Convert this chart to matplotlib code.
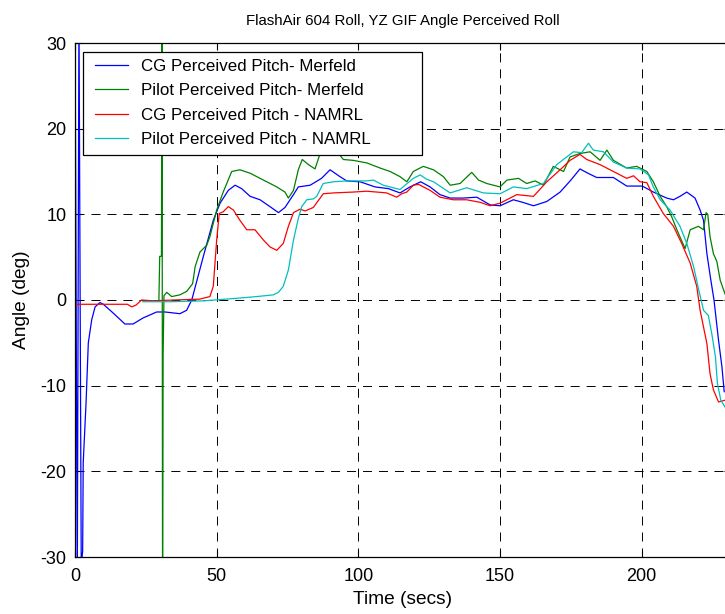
import matplotlib
matplotlib.use("Agg")
import matplotlib.pyplot as plt
from matplotlib.patches import Rectangle

plt.rcParams['font.family'] = ['Liberation Sans', 'DejaVu Sans']
plt.rcParams['lines.scale_dashes'] = False
plt.rcParams['axes.unicode_minus'] = False

# CG Perceived Pitch - Merfeld
cg_merfeld_t = [0.0, 0.8, 1.4, 2.2, 2.7, 2.9, 3.9, 4.7, 5.9, 7.1, 8.8, 10, 13.4, 17.6, 20.5,
                24, 28.8, 31.8, 37, 39.4, 41.2, 45.3, 48.8, 51.2, 54.1, 56.5, 58.8, 61.8,
                65.3, 68.8, 71.8, 74.1, 77.1, 78.8, 83, 87, 90, 93.5, 95.9, 100.6, 105.9,
                110.6, 114.7, 118.2, 122.0, 125.3, 128.8, 132.4, 137, 141.8, 146.5, 150,
                154.7, 158, 161.8, 166.5, 171.2, 175, 178.2, 181, 184.1, 190, 194.7, 200.2,
                204.1, 208.8, 211.2, 213.5, 215.9, 218.8, 220.6, 221.8, 223, 224.3, 225.5,
                227.1, 228.3, 229.1]
cg_merfeld_v = [34, -34, 34, -31, -29.3, -19, -12, -5, -2.3, -0.8, -0.3, -0.5, -1.5, -2.8, -2.8,
                -2.1, -1.4, -1.4, -1.6, -1.2, 0, 5.1, 9.3, 11.3, 12.8, 13.4, 13.0, 12.1,
                11.7, 10.9, 10.2, 10.8, 12.3, 13.2, 13.4, 14.2, 15.2, 14.4, 13.9, 13.8, 13.2,
                13.0, 12.5, 13.2, 13.8, 13.2, 12.3, 11.9, 11.9, 12.0, 11.1, 11.0,
                11.7, 11.4, 11.0, 11.5, 12.6, 14.0, 15.3, 14.8, 14.3, 14.3, 13.3, 13.3,
                12.6, 11.9, 11.7, 12.1, 12.6, 11.9, 10.5, 9.3, 5.4, 2.5, 0,
                -4.7, -7.8, -10.7]

# Pilot Perceived Pitch - Merfeld
pilot_merfeld_t = [24, 29.6, 29.9, 30.5, 30.7, 30.9, 31.1, 31.4, 32.4, 34.1, 37, 39.4, 41.5,
                   42.4, 44.1, 46.5, 47.6, 50, 52.3, 55.3, 58.2, 61.8, 66.5, 71.2, 74.1, 75.3,
                   77.1, 78.8, 80.2, 82.4, 84.7, 86.5, 88, 90.5, 93.5, 94.7, 98.2, 103, 107.7,
                   111.2, 114.7, 117.1, 119.4, 122.9, 126.5, 130, 132.4, 135.9, 140, 142.4,
                   145.3, 150, 152.4, 156.5, 159.4, 162.4, 165.3, 168.8, 172.4, 174.7, 178.2,
                   181.8, 185.3, 187.7, 190, 194.7, 198.2, 201.8, 204.1, 206.5, 208.8, 210.6,
                   212.4, 215.3, 217.1, 220, 221.8, 222.7, 223.3, 224.1, 225.3, 226.5, 227.7,
                   229.4]
pilot_merfeld_v = [-0.1, -0.1, 5.1, 5.1, 35, -35, -6.4, 0.5, 0.9, 0.4, 0.6, 1.0, 1.9,
                   3.9, 5.6, 6.4, 7.4, 10.5, 12.6, 15.0, 15.2, 14.8, 14.0, 13.2, 12.6, 11.9,
                   12.8, 15.2, 16.4, 15.8, 15.3, 17.1, 18.5, 18.0, 16.9, 16.4, 16.3, 16.0, 15.4,
                   15.0, 14.4, 13.8, 15.0, 15.6, 15.2, 14.4, 13.4, 13.6, 14.9, 14.0,
                   13.6, 13.2, 14.0, 14.2, 13.6, 13.9, 13.4, 15.6, 15.0, 16.7, 17.1,
                   17.3, 16.3, 17.5, 16.3, 15.4, 15.6, 15.0, 13.8, 12.1, 10.9, 9.7,
                   8.2, 6.0, 8.2, 8.6, 8.2, 10.2, 10.0, 7.4, 5.4, 4.5, 2.3,
                   0.7]

# CG Perceived Pitch - NAMRL
cg_namrl_t = [0, 18.5, 20, 21.5, 23.5, 27.6, 35, 44, 47.6, 48.8, 50, 50.9, 52.3, 54.1, 55.9,
              58.2, 60.6, 63.5, 66.5, 68.8, 71.2, 73.5, 75.3, 77.1, 79.4, 81.2, 84.1, 87.6,
              91.2, 98.2, 103, 110, 113.5, 115.3, 117.1, 119.4, 121.2, 125.3, 128.8, 133.5,
              138.2, 143, 146.5, 150, 155.9, 161.8, 166.5, 171.2, 174.7, 178.2, 180.6, 185.3,
              190, 194.7, 197.1, 199.4, 201.8, 204.1, 207.6, 211.2, 214.1, 217.1, 219.4,
              220.6, 223, 224.1, 225.3, 227.1, 229.4]
cg_namrl_v = [-0.5, -0.5, -0.8, -0.6, 0, -0.1, 0, 0.1, 0.4, 1.6, 7.0, 10.1, 10.3, 10.9, 10.5,
              9.3, 8.2, 8.2, 7.0, 6.2, 5.8, 6.6, 8.6, 10.2, 10.6, 10.4, 10.8, 12.4,
              12.5, 12.6, 12.7, 12.5, 12.0, 12.4, 12.6, 13.4, 13.5, 12.8, 12.0, 11.7,
              11.7, 11.4, 11.0, 11.3, 12.3, 12.1, 13.8, 15.2, 16.3, 17.0, 16.4, 15.8,
              15.0, 14.2, 14.5, 13.8, 13.7, 12.1, 10.1, 8.6, 6.6, 4.3, 1.6,
              -1.2, -5.1, -8.6, -10.5, -11.9, -11.7]

# Pilot Perceived Pitch - NAMRL
pilot_namrl_t = [24, 33.5, 45.3, 57.1, 64.1, 70, 71.8, 73.5, 75.3, 77.1, 78.8, 80, 81.8, 84.1,
                 85.3, 87.6, 91.2, 95.9, 103, 105.3, 108.8, 114.7, 119.4, 121.8, 124.1, 126.5,
                 132.4, 138.2, 144.1, 150, 154.7, 159.4, 165.3, 170, 173.5, 175.9, 178.8,
                 181.2, 182.9, 186.5, 190, 194.7, 199.4, 202.4, 204.1, 206.5, 210, 213.5,
                 215.9, 218.3, 220.1, 221.8, 223.5, 224.7, 226, 226.7, 227.9, 229.4]
pilot_namrl_v = [-0.2, -0.2, -0.1, 0.2, 0.4, 0.6, 0.9, 1.6, 3.5, 7.0, 9.5, 10.9, 11.7, 11.8,
                 12.1, 13.6, 13.8, 13.9, 13.9, 14.0, 13.4, 12.9, 14.2, 14.6, 14.1, 13.8,
                 12.5, 13.1, 12.5, 12.4, 13.2, 13.0, 13.6, 15.8, 16.7, 17.3, 17.2,
                 18.3, 17.5, 17.3, 16.1, 15.4, 15.3, 14.6, 13.2, 11.7, 10.5, 8.6,
                 6.6, 3.9, 1.2, -1.2, -1.8, -3.9, -6.6, -9.7, -11.7, -12.5]

labels = ["CG Perceived Pitch- Merfeld", "Pilot Perceived Pitch- Merfeld",
          "CG Perceived Pitch - NAMRL", "Pilot Perceived Pitch - NAMRL"]
colors = ["#0000ff", "#008000", "#ff0000", "#00bfbf"]

x_ticks = [0, 50, 100, 150, 200]
y_ticks = [-30, -20, -10, 0, 10, 20, 30]

W, H = 725, 614
fig = plt.figure(figsize=(W / 100, H / 100), dpi=100)
left, right, top, bottom = 75, 731, 43, 557
aw, ah = right - left, bottom - top
ax = fig.add_axes([left / W, 1 - bottom / H, aw / W, ah / H])

series = [(cg_merfeld_t, cg_merfeld_v), (pilot_merfeld_t, pilot_merfeld_v),
          (cg_namrl_t, cg_namrl_v), (pilot_namrl_t, pilot_namrl_v)]
for (t, v), c, lab in zip(series, colors, labels):
    ax.plot(t, v, color=c, lw=0.9, label=lab)

ax.set_xlim(0, 231.5)
ax.set_ylim(-30, 30)
ax.set_xticks(x_ticks)
ax.set_yticks(y_ticks)
ax.tick_params(direction='in', length=5, width=0.8, labelsize=13,
               top=True, right=True, pad=6)
ax.tick_params(axis='x', pad=8)
ax.grid(True, color='black', lw=0.7, linestyle=(0, (6.5, 5)))
for s in ax.spines.values():
    s.set_linewidth(0.9)

ax.set_title("FlashAir 604 Roll, YZ GIF Angle Perceived Roll", fontsize=10.8, pad=13)
ax.set_xlabel("Time (secs)", fontsize=13.8, labelpad=4)
ax.set_ylabel("Angle (deg)", fontsize=13.8, labelpad=8)

# legend box drawn as a plain rectangle, entries placed inside it
def ax_frac(px, py):
    return (px - left) / aw, (bottom - py) / ah

bx0, by0 = ax_frac(83, 155)
bx1, by1 = ax_frac(422, 52)
ax.add_patch(Rectangle((bx0, by0), bx1 - bx0, by1 - by0, transform=ax.transAxes,
                       facecolor='white', edgecolor='black', lw=0.9, zorder=4.5,
                       clip_on=False))
lx, ly = ax_frac(95, 59)
leg = ax.legend(loc='upper left', bbox_to_anchor=(lx, ly), borderaxespad=0,
                fontsize=12.2, frameon=False, handlelength=1.95, handletextpad=0.75,
                labelspacing=0.55, borderpad=0)
leg.set_zorder(5)

fig.savefig("out.png", dpi=100)
